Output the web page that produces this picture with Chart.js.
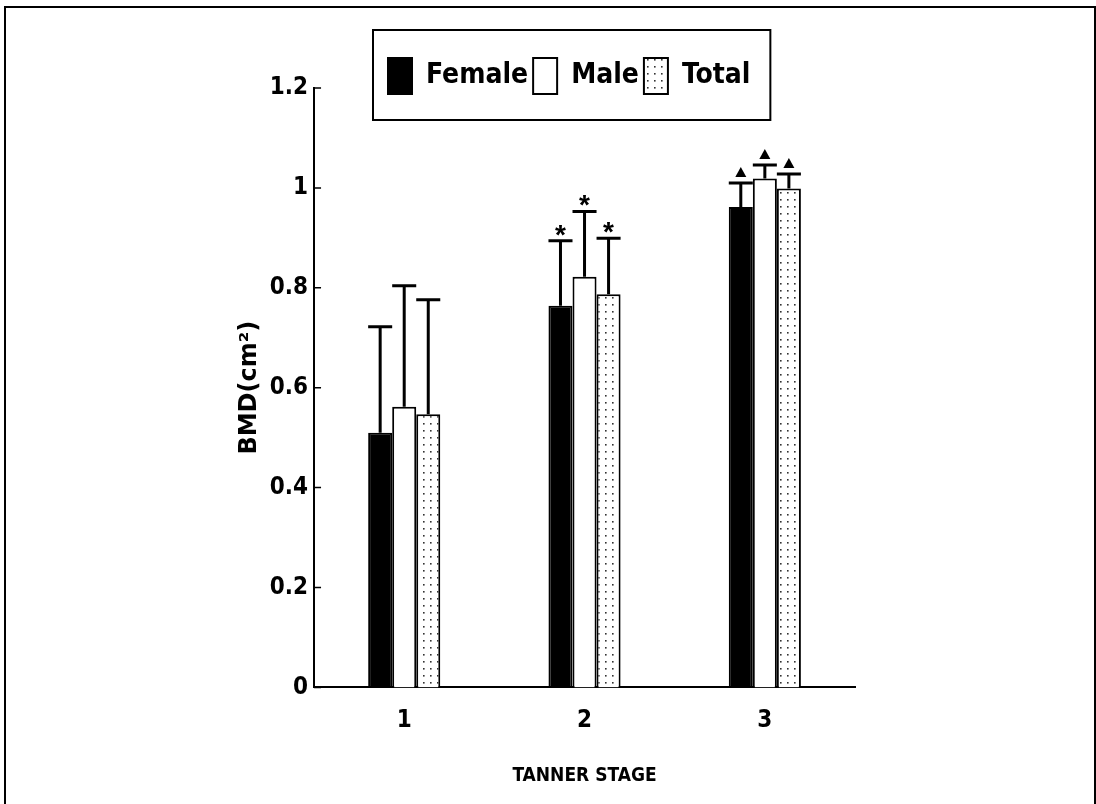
<!DOCTYPE html>
<html><head><meta charset="utf-8">
<script src="https://cdn.jsdelivr.net/npm/chart.js@4.4.1/dist/chart.umd.min.js"></script>
<style>
html,body{margin:0;padding:0;background:#fff;width:1096px;height:804px;overflow:hidden;}
#wrap{position:relative;width:1096px;height:804px;}
#frame{position:absolute;left:4px;top:6px;width:1088px;height:820px;border:2px solid #000;border-bottom:none;pointer-events:none;}
canvas{position:absolute;left:0;top:0;}
</style></head><body>
<div id="wrap"><canvas id="c" width="1096" height="804"></canvas><div id="frame"></div></div>
<script>
// ---- data ----
const categories = ['1', '2', '3'];
const seriesNames = ['Female', 'Male', 'Total'];
const femaleMean = [0.510, 0.764, 0.962];
const maleMean   = [0.562, 0.822, 1.019];
const totalMean  = [0.547, 0.787, 0.999];
const femaleSD   = [0.212, 0.130, 0.048];
const maleSD     = [0.242, 0.131, 0.027];
const totalSD    = [0.229, 0.112, 0.029];
const markers    = ['', '*', '▲'];
const yTicks     = [0, 0.2, 0.4, 0.6, 0.8, 1, 1.2];
const yTickLabels = ['0', '0.2', '0.4', '0.6', '0.8', '1', '1.2'];
const xTitle = 'TANNER STAGE';
const yTitle = 'BMD(cm²)';

// ---- styles ----
const NARROW = "'Liberation Sans Narrow', 'Arial Narrow', 'DejaVu Sans Condensed', sans-serif";
const WIDE = "'DejaVu Sans', 'Liberation Sans', sans-serif";
const SANS = "'Liberation Sans', Arial, sans-serif";
Chart.defaults.color = '#000';

function dotPattern() {
  const c = document.createElement('canvas');
  c.width = 7; c.height = 7;
  const g = c.getContext('2d');
  g.fillStyle = '#fff'; g.fillRect(0, 0, 7, 7);
  g.fillStyle = '#333'; g.fillRect(3, 3, 1.6, 1.6);
  return g.createPattern(c, 'repeat');
}

const errorBars = {
  id: 'errorBars',
  afterDatasetsDraw(chart) {
    const ctx = chart.ctx, ys = chart.scales.y;
    chart.data.datasets.forEach((ds, i) => {
      const meta = chart.getDatasetMeta(i);
      meta.data.forEach((bar, j) => {
        const top = ys.getPixelForValue(ds.data[j] + ds.sd[j]);
        const hw = bar.width / 2;
        ctx.save();
        ctx.strokeStyle = '#000';
        ctx.lineWidth = 3;
        ctx.beginPath();
        ctx.moveTo(bar.x, bar.y); ctx.lineTo(bar.x, top);
        ctx.moveTo(bar.x - hw, top); ctx.lineTo(bar.x + hw, top);
        ctx.stroke();
        const m = markers[j];
        if (m === '*') {
          ctx.fillStyle = '#000';
          ctx.font = 'bold 28px ' + SANS;
          ctx.textAlign = 'center';
          ctx.textBaseline = 'alphabetic';
          ctx.fillText('*', bar.x, top + 3);
        } else if (m === '▲') {
          ctx.fillStyle = '#000';
          ctx.beginPath();
          ctx.moveTo(bar.x, top - 16);
          ctx.lineTo(bar.x + 5.5, top - 6);
          ctx.lineTo(bar.x - 5.5, top - 6);
          ctx.closePath();
          ctx.fill();
        }
        ctx.restore();
      });
    });
  }
};

const innerTicks = {
  id: 'innerTicks',
  afterDraw(chart) {
    const ctx = chart.ctx, ys = chart.scales.y, left = chart.chartArea.left;
    ctx.save();
    ctx.strokeStyle = '#000';
    ctx.lineWidth = 1.5;
    ctx.beginPath();
    yTicks.forEach(v => {
      const py = ys.getPixelForValue(v);
      ctx.moveTo(left, py); ctx.lineTo(left + 7, py);
    });
    ctx.stroke();
    ctx.restore();
  }
};

const legendPlace = {
  id: 'legendPlace',
  afterLayout(chart) {
    const lg = chart.legend;
    const pad = lg.options.labels.padding;
    const start = (lg.left + pad + lg.right - lg.lineWidths[0]) / 2;
    const dx = 388 - start;
    const h = lg.height;
    lg.left += dx; lg.right += dx;
    lg.top = 53; lg.bottom = 53 + h;
  },
  afterDraw(chart) {
    const lg = chart.legend;
    const hb = lg.legendHitBoxes;
    if (!hb || !hb.length) return;
    const l = hb[0].left - 15;
    const r = hb[hb.length - 1].left + hb[hb.length - 1].width + 20;
    const ctx = chart.ctx;
    ctx.save();
    ctx.strokeStyle = '#000';
    ctx.lineWidth = 2;
    ctx.strokeRect(l, 30, r - l, 90);
    ctx.restore();
  }
};

const pattern = dotPattern();

new Chart(document.getElementById('c'), {
  type: 'bar',
  data: {
    labels: categories,
    datasets: [
      { label: seriesNames[0], data: femaleMean, sd: femaleSD, backgroundColor: '#000', borderColor: '#000', borderWidth: 2 },
      { label: seriesNames[1], data: maleMean, sd: maleSD, backgroundColor: '#fff', borderColor: '#000', borderWidth: 2 },
      { label: seriesNames[2], data: totalMean, sd: totalSD, backgroundColor: pattern, borderColor: '#000', borderWidth: 2 }
    ]
  },
  options: {
    responsive: false,
    animation: false,
    devicePixelRatio: 1,
    categoryPercentage: 0.4,
    barPercentage: 1.0,
    layout: { padding: { left: 230, right: 241, top: 37, bottom: 17 } },
    plugins: {
      tooltip: { enabled: false },
      legend: {
        position: 'top',
        labels: {
          boxWidth: 24, boxHeight: 36, padding: 5,
          color: '#000',
          font: { family: NARROW, size: 28, weight: 'bold' }
        }
      }
    },
    scales: {
      x: {
        grid: { display: false, drawTicks: false },
        border: { display: true, color: '#000', width: 2 },
        ticks: { padding: 19, color: '#000', font: { family: NARROW, size: 24, weight: 'bold' } },
        title: { display: true, text: xTitle, color: '#000', padding: { top: 10, bottom: 0 },
                 font: { family: NARROW, size: 19, weight: 'bold' } }
      },
      y: {
        min: 0, max: 1.2,
        grid: { display: false, drawTicks: false },
        border: { display: true, color: '#000', width: 2 },
        afterBuildTicks(scale) { scale.ticks = yTicks.map(v => ({ value: v })); },
        ticks: {
          padding: 6, color: '#000', font: { family: NARROW, size: 24, weight: 'bold' },
          callback(value, index) { return yTickLabels[index]; }
        },
        title: { display: true, text: yTitle, color: '#000', padding: { top: 5, bottom: 0 },
                 font: { family: WIDE, size: 24, weight: 'bold' } }
      }
    }
  },
  plugins: [errorBars, innerTicks, legendPlace]
});
</script>
</body></html>
